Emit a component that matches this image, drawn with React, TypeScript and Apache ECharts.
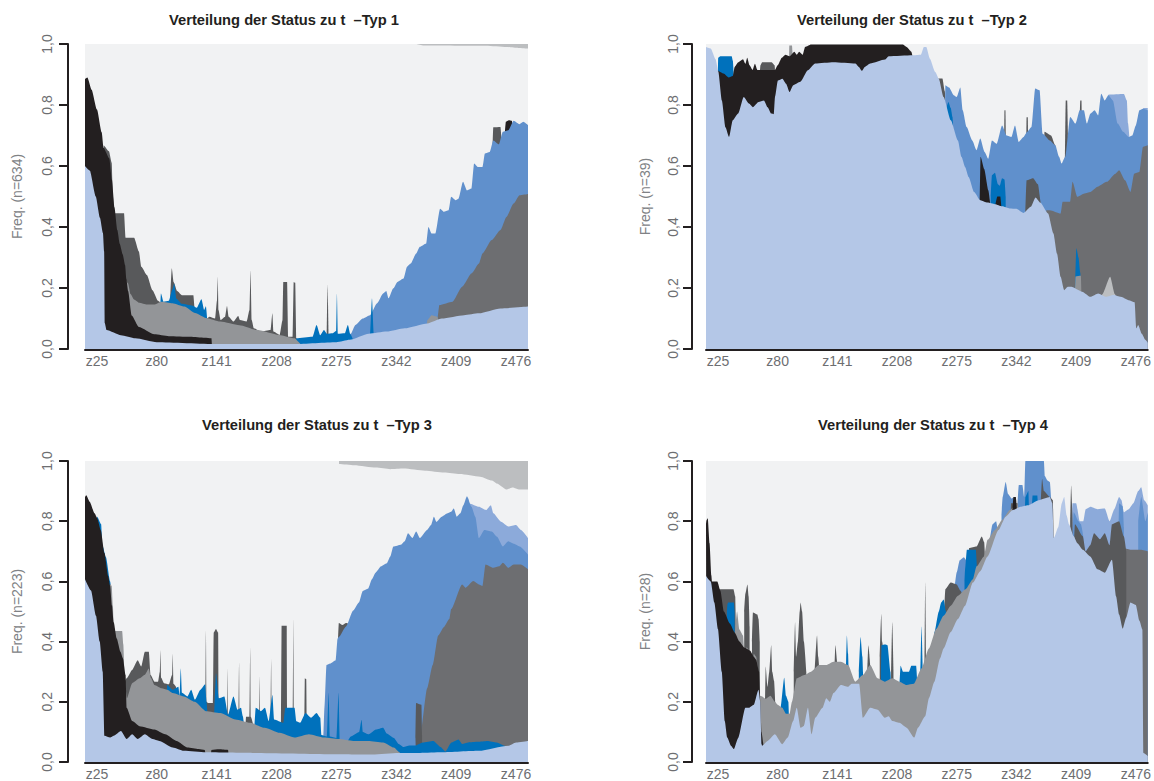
import React, { useEffect, useRef } from "react";
import * as echarts from "echarts";

type Pt = [number, number];

// ---------- axis content ----------
const X_TICK_POS = [10, 60, 110, 160, 210, 260, 310, 360];
const X_TICK_LABELS = ["z25", "z80", "z141", "z208", "z275", "z342", "z409", "z476"];
const PANEL_TITLES = [
  "Verteilung der Status zu t  \u2013Typ 1",
  "Verteilung der Status zu t  \u2013Typ 2",
  "Verteilung der Status zu t  \u2013Typ 3",
  "Verteilung der Status zu t  \u2013Typ 4",
];
const PANEL_N = [634, 39, 223, 28];

const C: Record<string, string> = {
  lblue: "#b4c7e7",
  black: "#231f20",
  mgray: "#939598",
  blue: "#0071bc",
  dgray: "#58595b",
  gray: "#6d6e71",
  mblue: "#6090cc",
  ltblue: "#8caada",
  bg: "#f1f2f3",
  lgray: "#bcbec0",
};

// ---------- Panel 1 (cumulative boundaries, x = time position, y = share) ----------
const P1_LGRAY: Pt[][] = [[[277, 1], [370, 1]]];
const P1_BG: Pt[][] = [[[0, 1], [276, 1], [283, 0.995], [335, 0.994], [352, 0.99], [362, 0.987], [370, 0.985]]];
const P1_BLACK_CAP: Pt[][] = [[[350.5, 0.7], [351.5, 0.745], [354, 0.75], [356.5, 0.748], [357.5, 0.72]]];
const P1_DGRAY_CAP: Pt[][] = [[[340.5, 0.67], [341, 0.727], [347, 0.728], [347.8, 0.69]]];
const P1_MBLUE: Pt[][] = [[
  [220, 0.03], [222, 0.05], [225.8, 0.079], [232, 0.1], [238, 0.111], [244, 0.15], [249, 0.182], [251.6, 0.19],
  [253.5, 0.166], [257.5, 0.199], [261, 0.22], [266, 0.231], [269, 0.27], [272, 0.28], [276.6, 0.313], [279.7, 0.335],
  [285, 0.346], [286.8, 0.4], [289.5, 0.379], [292.6, 0.379], [296.6, 0.46], [299.7, 0.45], [303.7, 0.455],
  [305.8, 0.499], [309.5, 0.488], [312, 0.493], [315.7, 0.548], [319, 0.52], [322.8, 0.526], [325, 0.608],
  [328, 0.597], [332, 0.597], [334, 0.641], [338, 0.646], [341, 0.684], [345.7, 0.671], [349, 0.712],
  [353.6, 0.717], [358, 0.748], [362.8, 0.737], [366, 0.745], [370, 0.734],
]];
const P1_GRAY: Pt[][] = [[
  [294.5, 0.1], [296, 0.144], [307, 0.155], [315, 0.204], [323, 0.248], [329, 0.28], [332, 0.313], [339.7, 0.357],
  [347, 0.39], [352, 0.433], [358, 0.477], [363, 0.504], [370, 0.508],
]];
const P1_DGRAY: Pt[][] = [
  [[15.3, 0.5], [15.6, 0.667], [20, 0.648], [22.3, 0.61], [23.3, 0.5], [24.6, 0.445], [32.6, 0.445], [33.9, 0.365],
   [41, 0.365], [45, 0.32], [47, 0.27], [51.7, 0.243], [56.4, 0.193], [61, 0.158], [64, 0.15], [65, 0.1]],
  [[71, 0.15], [72.5, 0.265], [74, 0.22], [77, 0.19], [81, 0.176], [90.5, 0.176], [91.5, 0.13]],
  [[101, 0.09], [101.6, 0.1], [104, 0.106], [108.7, 0.1], [110.3, 0.16], [110.9, 0.237], [111.5, 0.128], [113.3, 0.095],
   [117, 0.106], [118.6, 0.141], [120, 0.106], [124, 0.09], [128, 0.108], [129.4, 0.095], [135, 0.09], [137.4, 0.128],
   [138.3, 0.257], [139.2, 0.095], [141, 0.068], [147, 0.057], [155, 0.062], [156.5, 0.117], [157.4, 0.057],
   [162.6, 0.046], [165, 0.095], [165.6, 0.22], [168.8, 0.22], [169.7, 0.04], [173.4, 0.04], [174.3, 0.22],
   [175.6, 0.217], [176.5, 0.035], [179.6, 0.019]],
  [[201.8, 0.04], [202.6, 0.21], [203.4, 0.04]],
];
const P1_BLUE: Pt[][] = [
  [[63, 0.15], [63.4, 0.182], [65.6, 0.155], [70, 0.158], [73, 0.195], [74.5, 0.215], [76.4, 0.165], [81, 0.148],
   [90, 0.142], [93.3, 0.135], [97.3, 0.163], [99.5, 0.128], [101, 0.14], [102, 0.1]],
  [[176, 0.02], [176.5, 0.035], [190, 0.04], [193.4, 0.079], [196.5, 0.045], [199.6, 0.062], [202, 0.05], [207, 0.052],
   [209.8, 0.06], [210.4, 0.182], [211.2, 0.05], [217, 0.052], [219.6, 0.079], [221.5, 0.05], [224, 0.03]],
  [[236, 0.035], [238, 0.045], [239.7, 0.166], [241.2, 0.05], [245.8, 0.04], [246.5, 0.03]],
];
const P1_MGRAY: Pt[][] = [
  [[33.3, 0.15], [34, 0.225], [36, 0.215], [38, 0.18], [41, 0.162], [45, 0.152], [52, 0.146], [58, 0.146], [64, 0.155],
   [73, 0.15], [83, 0.139], [92, 0.118], [101, 0.102], [113, 0.09], [129, 0.078], [144, 0.062], [162, 0.046],
   [175, 0.035], [179.6, 0.019], [180.5, 0.01]],
  [[285.5, 0.08], [286, 0.095], [289.5, 0.111], [294.4, 0.106], [295, 0.09]],
];
const P1_BLACK: Pt[][] = [[
  [0, 0.885], [2, 0.89], [5.5, 0.85], [10, 0.785], [14, 0.71], [15.5, 0.66], [20.3, 0.625], [22.5, 0.555],
  [24.6, 0.465], [27, 0.39], [29, 0.345], [31.5, 0.31], [33.5, 0.275], [34.5, 0.23], [36, 0.19], [39, 0.11],
  [45, 0.072], [58, 0.048], [70, 0.042], [88, 0.04], [100, 0.037], [105.6, 0.035], [106, 0.015],
]];
const P1_LBLUE: Pt[][] = [[
  [0, 0.6], [4, 0.585], [9, 0.5], [12.5, 0.43], [15, 0.38], [16, 0.32], [16.5, 0.085], [18, 0.062], [30, 0.045],
  [42, 0.035], [60, 0.022], [110, 0.016], [175, 0.016], [210, 0.022], [221, 0.03], [237, 0.05], [252, 0.057],
  [267, 0.068], [286, 0.084], [298, 0.1], [316.6, 0.111], [329, 0.117], [347, 0.133], [370, 0.139],
]];

// ---------- Panel 2 ----------
const P2_BG: Pt[][] = [[[0, 1], [370, 1]]];
const P2_LTBLUE: Pt[][] = [
  [[336, 0.78], [337, 0.834], [350, 0.836], [352.5, 0.815], [353.5, 0.74], [354.5, 0.7]],
  [[365.5, 0.7], [366.2, 0.79], [370, 0.79]],
];
const P2_DGRAY_CAP: Pt[][] = [
  [[194, 0.75], [194.5, 0.887], [198, 0.887], [200, 0.845], [201, 0.78]],
  [[249.5, 0.6], [250, 0.783], [250.8, 0.783], [251.3, 0.6]],
  [[268, 0.6], [268.5, 0.76], [269.5, 0.76], [270, 0.6]],
  [[283, 0.6], [283.5, 0.712], [289, 0.7], [292.5, 0.668], [293.5, 0.6]],
  [[300.5, 0.6], [301.3, 0.815], [302.5, 0.815], [303.5, 0.6]],
  [[308, 0.6], [308.5, 0.697], [312.5, 0.697], [313.5, 0.815], [314.5, 0.815], [315, 0.697], [316, 0.6]],
  [[332.3, 0.6], [333, 0.815], [334.5, 0.8], [335.2, 0.6]],
  [[45, 0.9], [45.6, 0.93], [47, 0.94], [55, 0.94], [57.5, 0.93], [58, 0.9]],
];
const P2_MBLUE: Pt[][] = [[
  [200, 0.7], [200.5, 0.865], [203.6, 0.857], [207.5, 0.832], [210, 0.826], [213, 0.857], [215, 0.783], [218.3, 0.728],
  [223, 0.684], [226.6, 0.652], [229.7, 0.69], [233.3, 0.646], [236.4, 0.624], [239.5, 0.684], [243.5, 0.673],
  [248, 0.733], [251.8, 0.7], [255.8, 0.695], [258.8, 0.733], [261.9, 0.679], [266, 0.695], [269, 0.712],
  [272.6, 0.728], [275.7, 0.854], [279.4, 0.848], [281.9, 0.706], [288, 0.684], [292.6, 0.668], [295.7, 0.63],
  [297.8, 0.608], [300.9, 0.63], [305, 0.761], [309.5, 0.739], [313, 0.783], [316.5, 0.783], [319, 0.739],
  [322, 0.772], [325.5, 0.783], [328.5, 0.766], [331, 0.837], [334, 0.815], [337, 0.832], [340.8, 0.815],
  [344.8, 0.739], [349.4, 0.712], [354, 0.695], [357, 0.7], [360, 0.733], [363, 0.783], [366, 0.788], [370, 0.783],
]];
const P2_GRAY: Pt[][] = [[
  [284.5, 0.3], [285, 0.455], [288, 0.455], [297, 0.444], [298.7, 0.483], [305, 0.483], [307, 0.548], [311, 0.499],
  [317, 0.51], [322, 0.515], [328, 0.532], [335.6, 0.548], [343, 0.575], [346, 0.586], [351, 0.553], [355.5, 0.515],
  [358.6, 0.575], [363, 0.58], [366, 0.663], [370, 0.668],
]];
const P2_DGRAY: Pt[][] = [[[267.5, 0.45], [268.5, 0.553], [274, 0.56], [278, 0.54], [280.5, 0.48], [281, 0.45]]];
const P2_LGRAY: Pt[][] = [[[331, 0.16], [332, 0.18], [338.5, 0.237], [342.5, 0.18], [344, 0.16]]];
const P2_BLUE: Pt[][] = [
  [[10, 0.9], [10.2, 0.955], [12, 0.96], [21.5, 0.96], [22.5, 0.945], [23.2, 0.9]],
  [[201, 0.75], [202, 0.8], [203, 0.81], [205, 0.79], [206.5, 0.76], [207, 0.72]],
  [[238.5, 0.5], [239.5, 0.57], [242, 0.578], [244.5, 0.54], [246, 0.535], [248, 0.56], [250, 0.556], [251, 0.5]],
  [[309, 0.2], [310.2, 0.33], [312, 0.3], [313.5, 0.25], [314, 0.2]],
];
const P2_MGRAY: Pt[][] = [
  [[309, 0.17], [309.5, 0.238], [314, 0.24], [314.5, 0.17]],
  [[69.3, 0.9], [69.8, 0.995], [72, 0.995], [72.8, 0.94]],
];
const P2_BLACK: Pt[][] = [
  [[10, 0.913], [14.7, 0.903], [19, 0.89], [22.4, 0.895], [24, 0.925], [27, 0.94], [31, 0.95], [33, 0.935],
   [34.5, 0.955], [36.5, 0.93], [39, 0.915], [41, 0.935], [43, 0.915], [57.8, 0.915], [60, 0.93], [63.5, 0.955],
   [66.5, 0.965], [70, 0.96], [74, 0.975], [76, 0.965], [78, 0.975], [81, 0.965], [83, 0.99], [88, 0.998],
   [165, 0.998], [168, 0.99], [172, 0.975], [173, 0.96]],
  [[229.3, 0.49], [230, 0.63], [233, 0.59], [236.5, 0.52], [238.5, 0.47], [242, 0.47], [244, 0.5], [246.5, 0.5],
   [247.5, 0.46]],
];
const P2_LBLUE: Pt[][] = [[
  [0, 0.99], [4, 0.985], [8, 0.95], [10.3, 0.91], [13.3, 0.815], [16.3, 0.727], [19.3, 0.695], [22.4, 0.75],
  [27, 0.772], [31.6, 0.826], [36, 0.805], [39.3, 0.793], [44, 0.81], [48.5, 0.815], [51.6, 0.793], [54.7, 0.772],
  [56.8, 0.77], [57.8, 0.826], [60.2, 0.88], [64, 0.886], [67, 0.87], [70, 0.843], [73.1, 0.865], [79, 0.876],
  [85.3, 0.914], [91.5, 0.936], [106.8, 0.94], [125.2, 0.936], [128, 0.925], [130.6, 0.912], [133, 0.925],
  [137.5, 0.936], [150, 0.949], [153, 0.96], [173, 0.963], [180, 0.965], [182.5, 0.99], [184.5, 0.99],
  [187.5, 0.952], [192, 0.908], [195, 0.886], [199, 0.826], [205, 0.75], [211, 0.684], [214, 0.63], [217, 0.597],
  [220, 0.564], [224.5, 0.515], [229.7, 0.488], [235.8, 0.48], [242, 0.475], [248, 0.468], [254.4, 0.461],
  [260, 0.46], [266, 0.446], [272, 0.466], [276, 0.497], [280, 0.48], [286.5, 0.444], [291, 0.379], [294, 0.313],
  [297, 0.237], [300, 0.193], [303, 0.204], [306, 0.204], [315, 0.188], [322, 0.171], [328.5, 0.182], [335, 0.171],
  [341.3, 0.177], [347.5, 0.171], [354, 0.16], [359, 0.153], [360.4, 0.068], [362, 0.079], [365, 0.05],
  [368, 0.03], [370, 0.02],
]];

// ---------- Panel 3 ----------
const P3_LGRAY: Pt[][] = [[[212, 1], [370, 1]]];
const P3_BG: Pt[][] = [[
  [0, 1], [211, 1], [212, 0.99], [225, 0.986], [243, 0.978], [255, 0.973], [266, 0.975], [284, 0.968], [300, 0.962],
  [313, 0.957], [330, 0.948], [340, 0.935], [344, 0.925], [352, 0.905], [357, 0.912], [363, 0.905], [370, 0.905],
]];
const P3_LTBLUE: Pt[][] = [[
  [319, 0.85], [319.7, 0.88], [321, 0.859], [329, 0.848], [335, 0.837], [339, 0.853], [341, 0.826], [347.5, 0.798],
  [353.6, 0.782], [360, 0.787], [364, 0.771], [370, 0.744],
]];
const P3_DGRAY_CAP: Pt[][] = [[[211.3, 0.4], [212, 0.462], [215, 0.455], [218, 0.462], [220, 0.46], [221, 0.43]]];
const P3_MBLUE: Pt[][] = [[
  [198.5, 0.07], [199, 0.081], [200, 0.18], [201.7, 0.322], [204.8, 0.327], [209.4, 0.338], [211, 0.41], [212, 0.415],
  [218, 0.45], [224, 0.503], [228.8, 0.53], [232, 0.568], [236.5, 0.576], [239.6, 0.607], [242.7, 0.629],
  [247.3, 0.65], [252, 0.66], [255, 0.683], [257.5, 0.716], [264, 0.722], [267, 0.733], [269.8, 0.76],
  [273.5, 0.744], [276.6, 0.766], [279.7, 0.744], [285.8, 0.771], [289, 0.787], [291.4, 0.815], [293.5, 0.798],
  [298, 0.815], [302.8, 0.826], [305.8, 0.831], [308, 0.842], [310.5, 0.815], [313.5, 0.826], [316, 0.853],
  [319, 0.883], [322.8, 0.848], [326, 0.815], [329, 0.744], [333.6, 0.771], [339.7, 0.766], [344, 0.749],
  [349, 0.716], [353.6, 0.733], [358, 0.725], [363, 0.716], [370, 0.689],
]];
const P3_GRAY: Pt[][] = [[
  [279.5, 0.06], [279.7, 0.081], [285.8, 0.245], [290.4, 0.322], [295, 0.42], [299.7, 0.448], [304.3, 0.475],
  [305.8, 0.508], [315, 0.59], [318, 0.579], [324.3, 0.601], [329, 0.59], [332, 0.585], [334.5, 0.656], [341, 0.645],
  [346, 0.65], [349, 0.662], [353.6, 0.645], [358, 0.656], [364, 0.656], [370, 0.64],
]];
const P3_DGRAY: Pt[][] = [
  [[276, 0.08], [276.5, 0.196], [281, 0.19], [281.5, 0.09]],
  [[31.3, 0.2], [31.6, 0.256], [34.8, 0.278], [39.4, 0.306], [44, 0.338], [47, 0.317], [50, 0.366], [53.3, 0.366],
   [54.8, 0.289], [58, 0.267], [61, 0.267], [62.5, 0.3], [63, 0.371], [63.6, 0.28], [66, 0.262], [70, 0.258],
   [72.8, 0.29], [73.3, 0.36], [73.9, 0.26], [76, 0.25]],
  [[99, 0.12], [100.5, 0.12], [101, 0.437], [101.6, 0.2], [102.6, 0.196], [107, 0.196], [107.5, 0.43], [109.4, 0.442],
   [111.2, 0.43], [111.8, 0.12], [118.5, 0.12], [119, 0.311], [119.5, 0.12], [128.2, 0.12], [128.7, 0.333],
   [129.2, 0.12], [134, 0.12], [134.5, 0.15], [137.5, 0.15], [138, 0.382], [138.5, 0.15], [141, 0.12],
   [145.2, 0.12], [145.7, 0.284], [146.2, 0.12], [155, 0.12], [155.5, 0.344], [156, 0.12], [163.8, 0.12],
   [164.2, 0.453], [168.5, 0.453], [168.9, 0.12], [173.6, 0.12], [174, 0.475], [174.6, 0.12], [183.2, 0.12],
   [183.6, 0.278], [184.8, 0.275], [185.2, 0.12]],
];
const P3_BLUE: Pt[][] = [
  [[9.5, 0.78], [10.2, 0.815], [13.5, 0.79], [14.5, 0.72], [17.5, 0.68], [21, 0.6], [22, 0.57]],
  [[68, 0.2], [68.7, 0.256], [73.3, 0.24], [78, 0.25], [79, 0.22], [80, 0.311], [81, 0.23], [85.6, 0.218],
   [88.7, 0.24], [91.8, 0.207], [96.4, 0.24], [100.4, 0.258], [101.5, 0.2], [102.6, 0.15], [107.8, 0.15],
   [108.5, 0.22], [109.4, 0.295], [111.8, 0.212], [116.4, 0.218], [119.5, 0.158], [124, 0.218], [127.4, 0.174],
   [130.3, 0.18], [131.8, 0.152], [134, 0.09], [141, 0.09], [142.6, 0.18], [147, 0.169], [150.3, 0.18],
   [153.4, 0.136], [156.5, 0.223], [158, 0.141], [165.7, 0.13], [167.3, 0.18], [175, 0.18], [176.5, 0.135],
   [179.6, 0.13], [184.2, 0.163], [188.8, 0.147], [193.4, 0.163], [196.5, 0.147], [197.5, 0.09], [202, 0.085],
   [203.5, 0.23], [204.5, 0.085], [210, 0.08], [211.8, 0.23], [212.8, 0.075], [216.5, 0.05], [222, 0.085],
   [229, 0.1], [231, 0.14], [232, 0.1], [237, 0.092], [243, 0.108], [249, 0.114], [252, 0.095], [258, 0.08],
   [262, 0.06], [266, 0.05], [271, 0.055], [276, 0.055], [282, 0.065], [291, 0.07], [297, 0.05], [301, 0.035],
   [306, 0.065], [312, 0.075], [315, 0.06], [320, 0.065], [328, 0.067], [336, 0.07], [344, 0.065], [350, 0.055],
   [354, 0.045], [356, 0.035]],
];
const P3_MGRAY: Pt[][] = [[
  [20.3, 0.5], [20.8, 0.592], [22.3, 0.585], [23.3, 0.52], [24, 0.45], [24.5, 0.435], [31, 0.435], [32, 0.39],
  [33, 0.3], [34, 0.24], [35, 0.212], [39.4, 0.262], [45.6, 0.278], [50, 0.29], [53.3, 0.311], [55, 0.28],
  [58, 0.256], [64, 0.245], [68.7, 0.24], [73.3, 0.229], [82.5, 0.218], [91.8, 0.2], [101, 0.169], [113, 0.163],
  [125.7, 0.141], [138, 0.13], [150, 0.114], [162.6, 0.097], [175, 0.081], [187, 0.092], [199.6, 0.081],
  [212, 0.076], [224, 0.07], [236.5, 0.07], [249, 0.065], [258, 0.048], [262.7, 0.032], [264, 0.02],
]];
const P3_BLACK: Pt[][] = [
  [[0, 0.88], [1, 0.886], [4, 0.864], [8, 0.826], [10.2, 0.81], [13.2, 0.77], [16.3, 0.694], [19.4, 0.618],
   [21, 0.585], [22.5, 0.52], [24, 0.464], [26.5, 0.41], [29.6, 0.366], [31.7, 0.344], [33.9, 0.289], [34.8, 0.18],
   [39.4, 0.136], [45.6, 0.119], [58, 0.108], [67, 0.092], [76.4, 0.07], [85.6, 0.048], [95, 0.043], [100, 0.04],
   [101, 0.02]],
  [[105, 0.02], [105.6, 0.04], [112, 0.042], [119.5, 0.04], [120, 0.02]],
];
const P3_LBLUE: Pt[][] = [[
  [0, 0.607], [5, 0.57], [9.2, 0.486], [12.3, 0.4], [14.8, 0.3], [16.3, 0.087], [21, 0.081], [24, 0.087], [30, 0.103],
  [34.8, 0.076], [39.4, 0.092], [44, 0.076], [50, 0.092], [56.4, 0.076], [62, 0.07], [73.3, 0.048], [82.5, 0.037],
  [101, 0.032], [140, 0.03], [205.7, 0.026], [240, 0.025], [262, 0.03], [280, 0.03], [298, 0.032], [329, 0.037],
  [353.6, 0.054], [360, 0.065], [370, 0.07],
]];

// ---------- Panel 4 ----------
const P4_BG: Pt[][] = [[[0, 1], [370, 1]]];
const P4_LTBLUE: Pt[][] = [[
  [306, 0.75], [307, 0.86], [310, 0.86], [313, 0.8], [316, 0.8], [318, 0.84], [322, 0.848], [328, 0.84], [334, 0.842],
  [338, 0.8], [342, 0.84], [346, 0.88], [348, 0.87], [350, 0.83], [354, 0.84], [358, 0.86], [362, 0.9],
  [364.5, 0.913], [367, 0.87], [370, 0.853],
]];
const P4_MBLUE: Pt[][] = [
  [[307, 0.76], [308, 0.83], [312, 0.8], [314, 0.79], [316, 0.75]],
  [[345.5, 0.76], [346, 0.86], [349, 0.85], [350, 0.78]],
  [[362, 0.8], [364.5, 0.88], [368, 0.8], [370, 0.83]],
  [[207, 0.5], [208, 0.58], [210, 0.63], [212.5, 0.67], [216, 0.68], [218, 0.67], [219, 0.6]],
  [[236.5, 0.7], [237.5, 0.74], [240, 0.79], [243, 0.8], [244.5, 0.77], [245, 0.74]],
  [[247.5, 0.82], [248.5, 0.88], [251, 0.93], [253, 0.89], [256, 0.875], [258, 0.88]],
  [[261, 0.86], [262, 0.92], [265, 0.92], [266.5, 0.88], [267.5, 1], [283, 1], [283.8, 0.95], [286, 0.935],
   [288, 0.93], [289, 0.88]],
];
const P4_GRAY: Pt[][] = [[[340, 0.6], [340.5, 0.705], [346, 0.7], [350, 0.71], [356, 0.705], [364, 0.705], [370, 0.7]]];
const P4_DGRAY: Pt[][] = [
  [[9.5, 0.5], [10, 0.574], [17, 0.574], [23, 0.574], [24.5, 0.55], [25, 0.45]],
  [[32, 0.5], [33, 0.56], [34.7, 0.59], [35.7, 0.55], [36.5, 0.45]],
  [[38.5, 0.4], [39.3, 0.497], [43, 0.49], [44, 0.475], [45, 0.4]],
  [[49.5, 0.2], [50, 0.317], [51.5, 0.25], [53, 0.3], [54.6, 0.388], [55.5, 0.3], [57, 0.27], [58, 0.2]],
  [[73.5, 0.3], [74.6, 0.464], [75.5, 0.35], [77, 0.4], [78.5, 0.5], [79.2, 0.53], [80.5, 0.5], [82, 0.4], [84, 0.3]],
  [[91, 0.3], [93, 0.42], [94, 0.35], [95, 0.3]],
  [[107.5, 0.3], [108.4, 0.388], [110, 0.33], [111, 0.3]],
  [[135, 0.3], [136, 0.388], [137.5, 0.32]],
  [[145.5, 0.35], [146.8, 0.492], [147.5, 0.4], [149, 0.35]],
  [[155, 0.3], [156, 0.464], [157, 0.3]],
  [[183, 0.35], [183.6, 0.596], [184.2, 0.35]],
  [[199.5, 0.5], [200.5, 0.574], [205, 0.596], [210, 0.59], [213, 0.57], [215.8, 0.552], [217, 0.5]],
  [[219.5, 0.65], [220.4, 0.711], [226.6, 0.716], [231, 0.749], [233, 0.73], [234, 0.65]],
  [[255, 0.8], [255.5, 0.86], [261, 0.86], [261.5, 0.8]],
  [[280.5, 0.87], [281.5, 0.941], [283, 0.9], [288, 0.88], [290.5, 0.87], [291.3, 0.744], [293, 0.72]],
  [[305, 0.8], [305.8, 0.919], [307, 0.8]],
  [[308, 0.7], [309, 0.79], [315.6, 0.75], [318, 0.7], [321.8, 0.72], [325, 0.76], [330, 0.74], [334, 0.76],
   [338, 0.72], [340, 0.79], [346, 0.8], [350, 0.75], [352, 0.7]],
];
const P4_BLUE: Pt[][] = [
  [[17.5, 0.5], [18, 0.525], [18.5, 0.53], [23.3, 0.53], [24, 0.5]],
  [[62, 0.15], [62.4, 0.18], [65.5, 0.28], [67, 0.22], [69, 0.2], [69.5, 0.15]],
  [[117.2, 0.3], [118, 0.42], [119, 0.36], [119.5, 0.3]],
  [[128, 0.3], [129.5, 0.415], [131, 0.35], [131.5, 0.3]],
  [[146.5, 0.29], [147, 0.388], [150, 0.39], [152, 0.388], [154.5, 0.3], [155, 0.26]],
  [[161.5, 0.24], [162, 0.26], [163, 0.32], [165, 0.3], [170, 0.3], [172, 0.32], [176, 0.32], [177, 0.26]],
  [[179.5, 0.3], [180.5, 0.45], [181.5, 0.3]],
  [[190, 0.3], [191.3, 0.43], [195, 0.5], [197, 0.53], [199, 0.54], [201, 0.5], [203, 0.47]],
  [[216.5, 0.6], [217, 0.64], [218.5, 0.705], [223, 0.705], [226, 0.705], [227, 0.64]],
  [[267, 0.82], [267.5, 0.88], [270, 0.9], [270.5, 0.85]],
  [[273, 0.85], [273.5, 0.885], [277.5, 0.885], [278, 0.85]],
];
const P4_MGRAY: Pt[][] = [[
  [24, 0.35], [24.5, 0.45], [26, 0.5], [28, 0.44], [31, 0.42], [32, 0.37], [34, 0.38], [38, 0.36], [39, 0.3],
  [40, 0.36], [42, 0.35], [44, 0.3], [45, 0.22], [47, 0.218], [50, 0.21], [54, 0.22], [57.7, 0.2], [60, 0.19],
  [63.9, 0.18], [67, 0.16], [70, 0.16], [72, 0.2], [76, 0.278], [82.3, 0.289], [88, 0.3], [94.6, 0.322],
  [100.7, 0.322], [106.8, 0.333], [113, 0.333], [119, 0.322], [125, 0.267], [131.4, 0.289], [137.5, 0.322],
  [143.7, 0.278], [149.8, 0.267], [156, 0.278], [162, 0.267], [168, 0.256], [174, 0.26], [180.5, 0.311],
  [186.7, 0.377], [192.8, 0.442], [199, 0.486], [205, 0.519], [211, 0.552], [217.4, 0.574], [223.5, 0.607],
  [226.6, 0.65], [232.8, 0.683], [235.8, 0.738], [242, 0.771], [248, 0.804], [254.4, 0.837], [260.6, 0.859],
  [262, 0.84], [263, 0.8],
]];
const P4_BLACK: Pt[][] = [
  [[0, 0.79], [0.5, 0.804], [1.5, 0.81], [3, 0.727], [4.5, 0.62], [5, 0.6], [9.5, 0.6], [12, 0.57], [15, 0.5],
   [20, 0.46], [24, 0.43], [28, 0.4], [32, 0.38], [37, 0.37], [40, 0.35], [42, 0.34], [44.5, 0.3], [45.5, 0.2],
   [46.5, 0.1], [48.5, 0.05], [49.5, 0.03]],
  [[256.5, 0.83], [257.5, 0.88], [259.5, 0.88], [260.5, 0.83]],
];
const P4_LBLUE: Pt[][] = [[
  [0, 0.618], [4, 0.6], [7, 0.53], [10, 0.442], [13.2, 0.3], [15.7, 0.136], [17.8, 0.081], [20.9, 0.054],
  [23.3, 0.043], [27, 0.08], [33, 0.18], [36, 0.18], [40, 0.19], [44, 0.24], [45.5, 0.2], [46.5, 0.06], [47, 0.054],
  [51.6, 0.07], [57.7, 0.092], [63.9, 0.059], [68.5, 0.081], [73, 0.136], [76, 0.18], [79.2, 0.114], [82, 0.12],
  [85.4, 0.18], [88.4, 0.092], [91.5, 0.147], [97.6, 0.18], [100.7, 0.212], [103.8, 0.2], [106.8, 0.229],
  [113, 0.256], [119, 0.25], [122, 0.26], [128.3, 0.26], [131.4, 0.147], [137.5, 0.18], [143.7, 0.174],
  [149.8, 0.147], [153, 0.152], [156, 0.136], [162, 0.13], [168, 0.114], [174.4, 0.081], [177.5, 0.114],
  [183.6, 0.152], [186.7, 0.212], [191.3, 0.267], [196, 0.344], [199, 0.377], [205, 0.432], [211, 0.475],
  [217, 0.519], [223.5, 0.596], [229.7, 0.634], [235.8, 0.683], [245, 0.771], [251, 0.815], [257, 0.837],
  [263.4, 0.848], [269.6, 0.853], [278.8, 0.87], [288, 0.88], [290, 0.86], [291.3, 0.744], [295, 0.78],
  [298, 0.86], [300, 0.88], [302, 0.82], [304, 0.79], [308, 0.75], [311, 0.727], [315.6, 0.705], [321.8, 0.683],
  [328, 0.64], [334, 0.629], [340, 0.672], [343.5, 0.55], [346, 0.49], [349, 0.443], [352, 0.48], [355.5, 0.53],
  [360, 0.522], [363, 0.47], [365.5, 0.44], [366.5, 0.03], [370, 0.02],
]];

// ---------- drawing order per panel (first = back) ----------
type Layer = [string, Pt[][]];
const PANEL_LAYERS: Layer[][] = [
  [["lgray", P1_LGRAY], ["bg", P1_BG], ["black", P1_BLACK_CAP], ["dgray", P1_DGRAY_CAP], ["mblue", P1_MBLUE],
   ["gray", P1_GRAY], ["dgray", P1_DGRAY], ["blue", P1_BLUE], ["mgray", P1_MGRAY], ["black", P1_BLACK],
   ["lblue", P1_LBLUE]],
  [["bg", P2_BG], ["ltblue", P2_LTBLUE], ["dgray", P2_DGRAY_CAP], ["mblue", P2_MBLUE], ["gray", P2_GRAY],
   ["dgray", P2_DGRAY], ["lgray", P2_LGRAY], ["blue", P2_BLUE], ["mgray", P2_MGRAY], ["black", P2_BLACK],
   ["lblue", P2_LBLUE]],
  [["lgray", P3_LGRAY], ["bg", P3_BG], ["ltblue", P3_LTBLUE], ["dgray", P3_DGRAY_CAP], ["mblue", P3_MBLUE],
   ["gray", P3_GRAY], ["dgray", P3_DGRAY], ["blue", P3_BLUE], ["mgray", P3_MGRAY], ["black", P3_BLACK],
   ["lblue", P3_LBLUE]],
  [["bg", P4_BG], ["ltblue", P4_LTBLUE], ["mblue", P4_MBLUE], ["gray", P4_GRAY], ["dgray", P4_DGRAY],
   ["blue", P4_BLUE], ["mgray", P4_MGRAY], ["black", P4_BLACK], ["lblue", P4_LBLUE]],
];

// ---------- layout ----------
const GRIDS = [
  { left: 85, top: 44, width: 443, height: 305 },
  { left: 706, top: 44, width: 444, height: 305 },
  { left: 85, top: 461, width: 443, height: 302 },
  { left: 706, top: 461, width: 444, height: 302 },
];
const Y_OFFSETS = [17, 14, 17, 14];
const NAME_GAPS = [44, 40, 44, 40];
const LABEL_MARGINS = [14, 12, 14, 12];
const TITLE_POS: [number, number][] = [[284, 20], [912, 20], [317, 425], [933, 425]];

const FONT = '"Liberation Sans", Arial, Helvetica, sans-serif';

function buildOption() {
  const series: any[] = [];
  PANEL_LAYERS.forEach((layers, i) => {
    layers.forEach(([key, pieces]) => {
      pieces.forEach((piece) => {
        series.push({
          type: "line",
          xAxisIndex: i,
          yAxisIndex: i,
          data: piece,
          symbol: "none",
          showSymbol: false,
          smooth: 0.2,
          smoothMonotone: "x",
          silent: true,
          lineStyle: { width: 0, opacity: 0 },
          areaStyle: { color: C[key], opacity: 1, origin: "start" },
          emphasis: { disabled: true },
        });
      });
    });
  });

  return {
    animation: false,
    backgroundColor: "#ffffff",
    grid: GRIDS.map((g) => ({ ...g, containLabel: false })),
    xAxis: GRIDS.map((_, i) => ({
      type: "value",
      gridIndex: i,
      min: 0,
      max: 370,
      offset: 1,
      axisLine: { show: true, onZero: false, lineStyle: { color: "#231f20", width: 2 } },
      axisTick: { show: false },
      splitLine: { show: false },
      axisLabel: {
        customValues: X_TICK_POS,
        formatter: (v: number) => {
          const k = X_TICK_POS.indexOf(Math.round(v));
          return k >= 0 ? X_TICK_LABELS[k] : "";
        },
        color: "#6d6e71",
        fontSize: 14,
        fontFamily: FONT,
        margin: 4,
      },
    })),
    yAxis: GRIDS.map((_, i) => ({
      type: "value",
      gridIndex: i,
      min: 0,
      max: 1,
      interval: 0.2,
      offset: Y_OFFSETS[i],
      name: `Freq. (n=${PANEL_N[i]})`,
      nameLocation: "middle",
      nameGap: NAME_GAPS[i],
      nameRotate: 90,
      nameTextStyle: { color: "#808285", fontSize: 14, fontFamily: FONT },
      axisLine: { show: true, onZero: false, lineStyle: { color: "#231f20", width: 2 } },
      axisTick: { show: true, length: 9, lineStyle: { color: "#231f20", width: 2 } },
      splitLine: { show: false },
      axisLabel: {
        rotate: 90,
        margin: LABEL_MARGINS[i],
        color: "#6d6e71",
        fontSize: 14,
        fontFamily: FONT,
        formatter: (v: number) => v.toFixed(1).replace(".", ","),
      },
    })),
    graphic: PANEL_TITLES.map((t, i) => ({
      type: "text",
      x: TITLE_POS[i][0],
      y: TITLE_POS[i][1],
      silent: true,
      style: {
        text: t,
        fill: "#231f20",
        font: `bold 14.7px ${FONT}`,
        textAlign: "center",
        textVerticalAlign: "middle",
      },
    })),
    series,
  };
}

export default function App() {
  const ref = useRef<HTMLDivElement>(null);
  useEffect(() => {
    if (!ref.current) return;
    const chart = echarts.init(ref.current, undefined, { renderer: "svg" });
    chart.setOption(buildOption() as any);
    return () => chart.dispose();
  }, []);
  return (
    <div
      ref={ref}
      style={{ position: "fixed", left: 0, top: 0, width: 1154, height: 781, background: "#fff" }}
    />
  );
}
